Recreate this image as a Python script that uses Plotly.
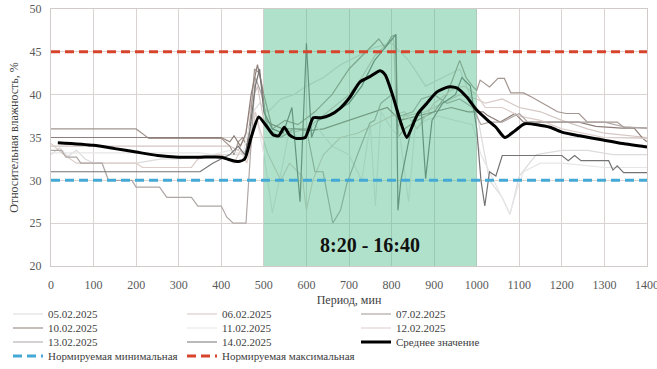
import plotly.graph_objects as go

# ---------------- data ----------------
x05 = [0, 20, 40, 60, 80, 100, 140, 200, 260, 300, 380, 440, 460, 475, 490, 510, 540, 570, 600, 640, 680,
       720, 760, 800, 840, 880, 920, 960, 1000, 1030, 1060, 1078, 1100, 1140, 1200, 1260, 1320, 1400]
y05 = [33.0, 33.8, 32.8, 33.5, 32.5, 32.0, 32.0, 32.0, 32.5, 32.5, 33.0, 33.0, 33.5, 38.0, 39.0, 38.0, 39.5,
       40.0, 41.0, 42.0, 43.5, 44.5, 45.5, 46.0, 44.0, 41.0, 42.0, 43.0, 38.0, 30.0, 28.0, 26.0, 30.5, 33.0,
       33.5, 33.5, 33.0, 33.0]

x06 = [0, 420, 440, 455, 470, 485, 500, 530, 560, 600, 650, 700, 730, 760, 790, 805, 812, 830, 880, 920,
       960, 1000, 1020, 1060, 1100, 1150, 1200, 1260, 1300, 1400]
y06 = [34.0, 34.0, 33.5, 35.0, 39.0, 41.0, 37.0, 35.0, 35.5, 36.0, 38.0, 40.0, 42.0, 44.5, 46.0, 46.5, 36.0,
       37.5, 38.0, 39.0, 40.0, 39.5, 39.0, 39.5, 38.5, 38.0, 37.0, 36.0, 35.5, 35.0]

x07 = [0, 200, 230, 400, 420, 430, 440, 450, 460, 470, 478, 490, 500, 520, 550, 580, 620, 660, 700, 740,
       770, 785, 800, 810, 815, 830, 860, 900, 930, 960, 975, 990, 1000, 1008, 1030, 1050, 1065, 1080, 1110,
       1130, 1160, 1190, 1210, 1240, 1260, 1330, 1345, 1400]
y07 = [36.0, 36.0, 34.9, 34.9, 34.0, 33.0, 34.5, 35.0, 34.0, 38.0, 43.0, 42.5, 40.0, 36.0, 37.0, 36.5, 38.0,
       40.0, 43.0, 45.0, 46.5, 45.5, 46.8, 47.0, 35.0, 36.0, 37.0, 38.0, 40.0, 44.0, 42.0, 41.0, 40.5, 41.7,
       40.9, 41.9, 41.9, 40.2, 40.2, 39.7, 38.8, 38.0, 37.8, 37.8, 36.8, 36.8, 36.2, 36.1]

x10 = [0, 400, 420, 430, 445, 458, 470, 485, 495, 505, 520, 545, 575, 605, 640, 700, 760, 790, 820, 860,
       900, 940, 980, 1000, 1015, 1025, 1055, 1090, 1110, 1180, 1240, 1280, 1340, 1370, 1390, 1400]
y10 = [35.0, 35.0, 34.5, 35.2, 34.0, 35.5, 40.0, 43.5, 41.0, 37.0, 36.5, 36.0, 36.0, 35.8, 36.0, 37.0, 38.0,
       38.5, 37.0, 37.5, 38.0, 38.5, 38.0, 38.0, 38.0, 37.6, 36.8, 37.8, 36.8, 36.8, 36.8, 36.3, 36.1, 36.1,
       34.9, 34.5]

x11 = [0, 350, 380, 420, 450, 465, 480, 500, 520, 545, 560, 580, 620, 660, 700, 730, 750, 762, 775, 800,
       820, 840, 855, 880, 910, 950, 990, 1010, 1040, 1060, 1078, 1095, 1110, 1150, 1200, 1300, 1400]
y11 = [33.2, 33.2, 33.0, 33.5, 33.0, 36.0, 38.0, 33.0, 26.2, 32.0, 36.0, 35.0, 36.5, 34.0, 33.0, 30.0, 36.5,
       27.0, 38.0, 36.0, 35.0, 27.5, 36.0, 37.0, 37.5, 37.0, 36.5, 33.0, 30.0, 28.0, 26.1, 29.0, 31.0, 32.0,
       32.0, 31.5, 31.5]

x12 = [0, 30, 60, 200, 215, 330, 345, 400, 430, 445, 460, 470, 480, 490, 510, 540, 560, 590, 600, 615, 640,
       680, 720, 760, 800, 830, 860, 900, 940, 970, 1000, 1020, 1060, 1100, 1150, 1200, 1250, 1300, 1400]
y12 = [34.3, 33.0, 32.0, 32.0, 31.5, 31.5, 32.5, 33.0, 32.0, 33.5, 32.0, 34.0, 38.0, 36.0, 33.0, 30.0, 32.0,
       30.5, 26.5, 30.0, 33.0, 35.0, 35.5, 36.5, 37.5, 38.0, 36.0, 39.0, 40.5, 41.0, 40.0, 38.5, 38.5, 37.5,
       37.0, 36.0, 35.5, 35.0, 34.9]

x13 = [0, 25, 35, 60, 70, 120, 135, 190, 200, 255, 272, 330, 345, 400, 413, 428, 458, 470, 480, 495, 510,
       540, 570, 600, 620, 639, 662, 680, 695, 720, 749, 760, 775, 800, 820, 850, 870, 900, 930, 960, 990,
       1010, 1030, 1060, 1100, 1120, 1180, 1240, 1300, 1350, 1400]
y13 = [33.5, 33.5, 32.7, 32.7, 32.0, 32.0, 30.0, 30.0, 29.2, 29.2, 28.0, 28.0, 27.0, 27.0, 25.7, 25.0, 25.0,
       35.0, 42.0, 40.0, 36.0, 35.0, 36.0, 36.0, 31.0, 31.0, 25.0, 26.5, 29.6, 33.0, 36.7, 37.0, 39.0, 40.0,
       37.5, 38.0, 39.5, 40.0, 39.0, 39.5, 38.5, 36.5, 36.8, 36.8, 37.8, 36.8, 36.8, 36.8, 36.8, 36.2, 36.1]

x14 = [0, 350, 380, 420, 440, 455, 465, 480, 490, 500, 520, 545, 566, 585, 600, 612, 627, 650, 700, 730,
       760, 800, 810, 815, 822, 850, 870, 880, 895, 920, 950, 965, 985, 1000, 1010, 1019, 1030, 1045, 1060,
       1200, 1215, 1230, 1245, 1310, 1320, 1330, 1345, 1400]
y14 = [31.0, 31.0, 32.0, 33.0, 34.0, 33.0, 35.0, 41.0, 43.0, 38.0, 36.0, 35.5, 38.5, 27.5, 46.0, 35.0, 37.0,
       37.5, 39.0, 41.0, 44.0, 46.5, 47.0, 26.5, 30.0, 37.0, 38.0, 30.2, 37.0, 39.0, 40.0, 42.0, 41.0, 36.0,
       30.0, 27.0, 31.0, 30.5, 32.9, 32.9, 32.3, 32.9, 32.3, 32.3, 31.2, 31.7, 30.9, 30.9]

avg_x = [16, 100, 150, 200, 250, 300, 350, 400, 420, 440, 455, 470, 488, 505, 522, 535, 548, 560, 575, 597,
         616, 635, 655, 679, 702, 726, 749, 773, 785, 804, 820, 836, 851, 862, 883, 906, 933, 953, 977, 1000,
         1026, 1045, 1066, 1090, 1113, 1172, 1202, 1242, 1297, 1343, 1400]
avg_y = [34.4, 34.1, 33.7, 33.3, 32.9, 32.7, 32.7, 32.7, 32.4, 32.2, 32.5, 35.0, 37.4, 36.4, 35.3, 35.2,
         36.2, 35.3, 34.9, 35.0, 37.3, 37.3, 37.6, 38.4, 39.7, 41.5, 42.1, 42.8, 42.3, 39.7, 37.0, 35.0, 36.6,
         37.8, 39.0, 40.3, 40.9, 40.8, 39.7, 38.2, 37.0, 36.2, 35.0, 35.8, 36.6, 36.2, 35.6, 35.2, 34.7, 34.3,
         33.9]

series_names = ["05.02.2025", "06.02.2025", "07.02.2025", "10.02.2025", "11.02.2025",
                "12.02.2025", "13.02.2025", "14.02.2025"]
avg_name = "Среднее значение"
min_name = "Нормируемая минимальная"
max_name = "Нормируемая максимальная"
norm_min = 30
norm_max = 45
x_limits = [0, 1400]
y_limits = [20, 50]
work_start, work_end = 500, 1000
work_label = "8:20 - 16:40"

# ---------------- figure ----------------
series = [(x05, y05), (x06, y06), (x07, y07), (x10, y10), (x11, y11), (x12, y12), (x13, y13), (x14, y14)]
colors = ["#dcdcdc", "#d4c6c2", "#a3958f", "#8f7f7a", "#e6e6e6", "#ddcdc9", "#aea6a4", "#747474"]
legends = ["legend", "legend", "legend", "legend2", "legend2", "legend2", "legend3", "legend3"]

fig = go.Figure()
for (xs, ys), name, col, lg in zip(series, series_names, colors, legends):
    fig.add_trace(go.Scatter(x=xs, y=ys, mode="lines", name=name, legend=lg,
                             line=dict(color=col, width=1.2)))

fig.add_trace(go.Scatter(
    x=[work_start, work_end, work_end, work_start, work_start],
    y=[y_limits[0], y_limits[0], y_limits[1], y_limits[1], y_limits[0]],
    fill="toself", fillcolor="rgba(80,190,140,0.45)", mode="lines",
    line=dict(width=0), showlegend=False, hoverinfo="skip"))

fig.add_trace(go.Scatter(x=x_limits, y=[norm_min, norm_min], mode="lines", name=min_name, legend="legend4",
                         line=dict(color="#45a9d6", width=3, dash="9px,5px")))
fig.add_trace(go.Scatter(x=x_limits, y=[norm_max, norm_max], mode="lines", name=max_name, legend="legend4",
                         line=dict(color="#d8432c", width=3, dash="9px,5px")))
fig.add_trace(go.Scatter(x=avg_x, y=avg_y, mode="lines", name=avg_name, legend="legend3",
                         line=dict(color="#000000", width=3, shape="spline", smoothing=0.6)))

serif = "Liberation Serif, Times New Roman, serif"

fig.add_annotation(x=(work_start + work_end) / 2, y=22.5, text="<b>" + work_label + "</b>",
                   showarrow=False, font=dict(family=serif, size=20, color="#111111"))

axis_common = dict(showgrid=True, gridcolor="#d9d4d2", gridwidth=1, showline=True, linecolor="#d0cbc9",
                   linewidth=1, mirror=True, zeroline=False, ticks="", ticklabeloverflow="allow",
                   automargin=False, tickfont=dict(family=serif, size=12, color="#595959"))

leg_x = (8 - 51) / 596
legend_common = dict(orientation="h", x=leg_x, xanchor="left", yanchor="middle", entrywidth=129,
                     entrywidthmode="pixels", bgcolor="rgba(0,0,0,0)", traceorder="normal",
                     font=dict(family=serif, size=11, color="#404040"), itemclick=False)

fig.update_layout(
    width=657, height=369,
    margin=dict(l=51, r=10, t=9, b=103, autoexpand=False),
    paper_bgcolor="white", plot_bgcolor="white",
    font=dict(family=serif, color="#404040"),
    xaxis=dict(range=x_limits, dtick=100, tick0=0, ticklabelstandoff=8,
               title=dict(text="Период, мин", font=dict(family=serif, size=12, color="#404040"), standoff=4),
               **axis_common),
    yaxis=dict(range=y_limits, dtick=5, tick0=20, ticklabelstandoff=6,
               title=dict(text="Относительная влажность, %", font=dict(family=serif, size=12, color="#404040"),
                          standoff=8),
               **axis_common),
    legend=dict(y=(266 - 314) / 257, **legend_common),
    legend2=dict(y=(266 - 328) / 257, **legend_common),
    legend3=dict(y=(266 - 342) / 257, **legend_common),
    legend4=dict(y=(266 - 356) / 257, **legend_common),
    showlegend=True,
)

fig.write_html("out.html")
